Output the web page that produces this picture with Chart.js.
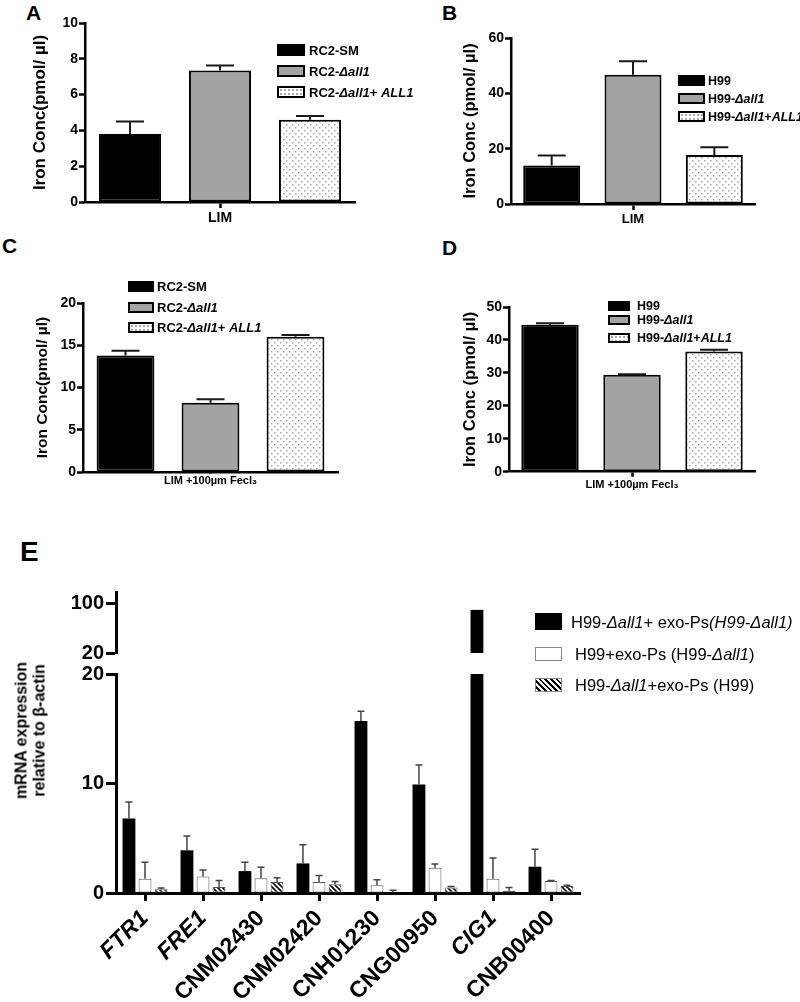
<html><head><meta charset="UTF-8">
<title>Iron concentration and mRNA expression</title>
<script src="https://cdn.jsdelivr.net/npm/chart.js"></script>
<style>
body {
  margin: 0;
  width: 800px;
  height: 1002px;
  position: relative;
  overflow: hidden;
  background: #fff;
  font-family: 'Liberation Sans', Arial, sans-serif;
  color: #000;
}
canvas { position: absolute; }
.panel-label { position: absolute; font-weight: bold; line-height: 1; }
.swatch { position: absolute; box-sizing: border-box; }
.leg-text { position: absolute; white-space: nowrap; line-height: 1; transform: translateY(-50%); }
#eTitle {
  position: absolute;
  width: 170px;
  left: -55px;
  top: 713px;
  text-align: center;
  font-weight: bold;
  font-size: 16px;
  line-height: 17.5px;
  transform: rotate(-90deg);
}
</style>
</head>
<body>
<div class="panel-label" style="left:26px;top:2px;font-size:21px">A</div>
<div class="panel-label" style="left:442px;top:2px;font-size:21px">B</div>
<div class="panel-label" style="left:2px;top:235px;font-size:21px">C</div>
<div class="panel-label" style="left:442px;top:237px;font-size:21px">D</div>
<div class="panel-label" style="left:20px;top:538px;font-size:28px">E</div>

<canvas id="cA"></canvas>
<canvas id="cB"></canvas>
<canvas id="cC"></canvas>
<canvas id="cD"></canvas>
<canvas id="cEtop"></canvas>
<canvas id="cE"></canvas>
<div id="eTitle">mRNA expression<br>relative to β-actin</div>

<script>
// ---- data ----
const limGroup = ['LIM'];
const feGroup = ['LIM +100µm Fecl₃'];
const rc2Series = ['RC2-SM', 'RC2-Δall1', 'RC2-Δall1+ ALL1'];
const h99Series = ['H99', 'H99-Δall1', 'H99-Δall1+ALL1'];

const valuesA = [3.8, 7.35, 4.6];
const errorsA = [0.7, 0.28, 0.2];
const valuesB = [13.9, 46.7, 17.75];
const errorsB = [3.6, 4.9, 2.75];
const valuesC = [13.8, 8.2, 16.0];
const errorsC = [0.55, 0.4, 0.2];
const valuesD = [44.6, 29.4, 36.5];
const errorsD = [0.5, 0.2, 0.5];

const genes = ['FTR1', 'FRE1', 'CNM02430', 'CNM02420', 'CNH01230', 'CNG00950', 'CIG1', 'CNB00400'];
const italicGenes = ['FTR1', 'FRE1', 'CIG1'];
const exoSeries = ['H99-Δall1+ exo-Ps(H99-Δall1)', 'H99+exo-Ps (H99-Δall1)', 'H99-Δall1+exo-Ps (H99)'];
const mutantExo = [6.8, 3.9, 2.0, 2.7, 15.7, 9.9, 89, 2.4];
const mutantExoErr = [1.5, 1.3, 0.8, 1.7, 0.9, 1.8, 0, 1.6];
const wtExo = [1.3, 1.5, 1.35, 1.0, 0.7, 2.3, 1.3, 1.1];
const wtExoErr = [1.5, 0.6, 1.0, 0.6, 0.5, 0.35, 1.9, 0.05];
const h99Exo = [0.35, 0.55, 1.0, 0.8, 0.05, 0.5, 0.2, 0.65];
const h99ExoErr = [0.1, 0.6, 0.4, 0.25, 0.2, 0.1, 0.3, 0.05];

const lowTicks = [0, 10, 20];
const highTicks = [20, 100];
const breakAt = 20;
const highMax = 117.6;

// ---- helpers ----
const FONT = "'Liberation Sans', Arial, sans-serif";
Chart.defaults.font.family = FONT;
Chart.defaults.color = '#000';

function dotPattern() {
  const c = document.createElement('canvas');
  c.width = 6; c.height = 6;
  const g = c.getContext('2d');
  g.fillStyle = '#fff'; g.fillRect(0, 0, 6, 6);
  g.fillStyle = '#a8a8a8';
  g.fillRect(1, 1, 1.5, 1.5);
  g.fillRect(4, 4, 1.5, 1.5);
  return g.createPattern(c, 'repeat');
}

function stripePattern() {
  const s = 5;
  const c = document.createElement('canvas');
  c.width = s; c.height = s;
  const g = c.getContext('2d');
  g.fillStyle = '#fff'; g.fillRect(0, 0, s, s);
  g.strokeStyle = '#000'; g.lineWidth = 1.6;
  g.beginPath();
  g.moveTo(-1, -1); g.lineTo(s + 1, s + 1);
  g.moveTo(-1, s - 1); g.lineTo(1, s + 1);
  g.moveTo(s - 1, -1); g.lineTo(s + 1, 1);
  g.stroke();
  return g.createPattern(c, 'repeat');
}

// one-sided (upper) error bars, like the original
const errorBars = {
  id: 'errorBars',
  afterDatasetsDraw(chart) {
    const {ctx, chartArea} = chart;
    const y = chart.scales.y;
    chart.data.datasets.forEach((ds, di) => {
      if (!ds.errors) return;
      const meta = chart.getDatasetMeta(di);
      ctx.save();
      ctx.beginPath();
      ctx.rect(chartArea.left, chartArea.top - 2, chartArea.width, chartArea.height + 2);
      ctx.clip();
      ctx.strokeStyle = ds.errColor;
      ctx.lineWidth = ds.errWidth;
      meta.data.forEach((bar, i) => {
        const v = ds.data[i], e = ds.errors[i];
        if (v == null || !e) return;
        const top = y.getPixelForValue(v + e);
        const half = ds.capWidth / 2;
        ctx.beginPath();
        ctx.moveTo(bar.x, bar.y);
        ctx.lineTo(bar.x, top);
        ctx.moveTo(bar.x - half, top);
        ctx.lineTo(bar.x + half, top);
        ctx.stroke();
      });
      ctx.restore();
    });
  }
};

function styled(s) {
  if (s.endsWith('Ps(H99-Δall1)')) return styled(s.slice(0, -11)) + '<i>(H99-Δall1)</i>';
  return s.replace(/Δall1|ALL1/g, '<i>$&</i>');
}

function legend(items, o) {
  items.forEach((name, i) => {
    const h = Array.isArray(o.h) ? o.h[i] : o.h;
    const sw = document.createElement('div');
    sw.className = 'swatch';
    sw.style.cssText += `left:${o.x}px;top:${o.ys[i] - h / 2}px;width:${o.w}px;height:${h}px;` + o.swatches[i];
    document.body.appendChild(sw);
    const t = document.createElement('div');
    t.className = 'leg-text';
    const tx = Array.isArray(o.tx) ? o.tx[i] : o.tx;
    t.style.cssText += `left:${tx}px;top:${o.ys[i]}px;font-size:${o.size}px;font-weight:${o.weight};`;
    t.innerHTML = styled(name);
    document.body.appendChild(t);
  });
}

function place(id, box) {
  const cv = document.getElementById(id);
  cv.width = box.w; cv.height = box.h;
  cv.style.left = box.left + 'px';
  cv.style.top = box.top + 'px';
  return cv;
}

const dots = dotPattern();
const stripes = stripePattern();
const ironFills = ['#000', '#a3a3a3', dots];

function ironPanel(id, box, o) {
  const cv = place(id, box);
  return new Chart(cv, {
    type: 'bar',
    data: {
      labels: o.group,
      datasets: o.series.map((name, i) => ({
        label: name,
        data: [o.values[i]],
        errors: [o.errors[i]],
        errColor: '#1a1a1a', errWidth: 2, capWidth: 28,
        backgroundColor: ironFills[i],
        borderColor: '#000',
        borderWidth: 2,
        borderSkipped: false,
        categoryPercentage: 1,
        barPercentage: o.barPct
      }))
    },
    options: {
      responsive: false,
      animation: false,
      events: [],
      layout: {padding: {top: o.padTop, right: 10, left: 0, bottom: 0}},
      plugins: {legend: {display: false}, tooltip: {enabled: false}},
      scales: {
        x: {
          grid: {drawOnChartArea: false, offset: false, tickLength: o.xTick, tickWidth: 2.5, tickColor: '#000'},
          border: {color: '#000', width: 2.5},
          ticks: {color: '#000', font: {weight: 'bold', size: o.xSize}, padding: 2},
          afterFit: s => { s.height = o.xh; }
        },
        y: {
          min: 0, max: o.max,
          ticks: {stepSize: o.step, color: '#000', font: {weight: 'bold', size: 14}, padding: 1},
          grid: {drawOnChartArea: false, tickLength: 6, tickWidth: 2.5, tickColor: '#000'},
          border: {color: '#000', width: 2.5},
          title: {display: true, text: o.yTitle, color: '#000',
                  font: {weight: 'bold', size: o.titleSize, lineHeight: 1.2},
                  padding: {top: o.titlePad, bottom: 0}},
          afterFit: s => { s.width = o.yw; }
        }
      }
    },
    plugins: [errorBars]
  });
}

ironPanel('cA', {left: 0, top: 0, w: 365, h: 235}, {
  group: limGroup, series: rc2Series, values: valuesA, errors: errorsA,
  max: 10, step: 2, padTop: 23, yw: 85, xh: 33, barPct: 0.69, xTick: 6, xSize: 14,
  yTitle: 'Iron Conc(pmol/ µl)', titleSize: 17, titlePad: 29.8
});
ironPanel('cB', {left: 400, top: 0, w: 365, h: 240}, {
  group: limGroup, series: h99Series, values: valuesB, errors: errorsB,
  max: 60, step: 20, padTop: 38, yw: 111, xh: 36, barPct: 0.70, xTick: 6, xSize: 13,
  yTitle: 'Iron Conc (pmol/ µl)', titleSize: 16.5, titlePad: 60.6
});
ironPanel('cC', {left: 0, top: 230, w: 348, h: 265}, {
  group: feGroup, series: rc2Series, values: valuesC, errors: errorsC,
  max: 20, step: 5, padTop: 73, yw: 83, xh: 23, barPct: 0.68, xTick: 0, xSize: 11,
  yTitle: 'Iron Conc(pmol/ µl)', titleSize: 15.5, titlePad: 33.2
});
ironPanel('cD', {left: 400, top: 230, w: 365, h: 265}, {
  group: feGroup, series: h99Series, values: valuesD, errors: errorsD,
  max: 50, step: 10, padTop: 77, yw: 109, xh: 23.3, barPct: 0.70, xTick: 5, xSize: 11,
  yTitle: 'Iron Conc (pmol/ µl)', titleSize: 16.5, titlePad: 60.6
});

const boxCss = ['background:#000;border:2px solid #000;',
                'background:#a3a3a3;border:2px solid #000;',
                'background:#fff radial-gradient(#a8a8a8 0.9px, transparent 1.2px) 0 0/4px 4px;border:2px solid #000;'];
legend(rc2Series, {x: 277, w: 28, h: 12, ys: [50, 71, 91.5], tx: 309, size: 13, weight: 'bold', swatches: boxCss});
legend(h99Series, {x: 678, w: 27, h: 11, ys: [80.5, 98.5, 116.5], tx: 708, size: 12.5, weight: 'bold', swatches: boxCss});
legend(rc2Series, {x: 128, w: 26, h: 11, ys: [286, 307, 327], tx: 157, size: 13, weight: 'bold', swatches: boxCss});
legend(h99Series, {x: 608, w: 22, h: 10, ys: [306, 319.5, 338], tx: 637, size: 12.5, weight: 'bold', swatches: boxCss});

// ---- panel E: broken y axis drawn as two charts sharing the x layout ----
const exoFills = ['#000', '#fff', stripes];
const exoBorders = [0, 1, 1];
const exoValues = [mutantExo, wtExo, h99Exo];
const exoErrors = [mutantExoErr, wtExoErr, h99ExoErr];
const allClip = {left: 0, top: 0, right: 0, bottom: 0};

function exoDatasets(part) {
  return exoSeries.map((name, i) => ({
    label: name,
    data: exoValues[i].map(v => part === 'high' ? (v > breakAt ? v : null) : v),
    errors: part === 'high' ? null : exoErrors[i],
    errColor: '#444', errWidth: 1.5, capWidth: 7,
    backgroundColor: exoFills[i],
    borderColor: '#555',
    borderWidth: exoBorders[i],
    borderSkipped: false,
    categoryPercentage: 0.83,
    barPercentage: 0.8,
    clip: allClip
  }));
}

const yTickFont = {weight: 'bold', size: 20};
const yGrid = {drawOnChartArea: false, tickLength: 10, tickWidth: 3, tickColor: '#000'};

new Chart(place('cEtop', {left: 0, top: 560, w: 590, h: 110}), {
  type: 'bar',
  data: {labels: genes, datasets: exoDatasets('high')},
  options: {
    responsive: false, animation: false, events: [],
    layout: {padding: {top: 32, right: 10, left: 0, bottom: 17}},
    plugins: {legend: {display: false}, tooltip: {enabled: false}},
    scales: {
      x: {display: false},
      y: {
        min: breakAt, max: highMax,
        afterBuildTicks: s => { s.ticks = highTicks.map(v => ({value: v})); },
        ticks: {color: '#000', font: yTickFont, padding: 2},
        grid: yGrid,
        border: {color: '#000', width: 3},
        afterFit: s => { s.width = 116; }
      }
    }
  }
});

new Chart(place('cE', {left: 0, top: 660, w: 590, h: 342}), {
  type: 'bar',
  data: {labels: genes, datasets: exoDatasets('low')},
  options: {
    responsive: false, animation: false, events: [],
    layout: {padding: {top: 13, right: 10, left: 0, bottom: 0}},
    plugins: {legend: {display: false}, tooltip: {enabled: false}},
    scales: {
      x: {
        grid: {drawOnChartArea: false, offset: false, tickLength: 8, tickWidth: 3, tickColor: '#000'},
        border: {color: '#000', width: 3},
        ticks: {
          color: '#000', autoSkip: false, minRotation: 45, maxRotation: 45, padding: 4,
          font: ctx => ({family: FONT, size: 23, weight: 'bold',
                         style: italicGenes.includes(genes[ctx.index]) ? 'italic' : 'normal'})
        },
        afterFit: s => { s.height = 109; }
      },
      y: {
        min: 0, max: breakAt,
        afterBuildTicks: s => { s.ticks = lowTicks.map(v => ({value: v})); },
        ticks: {color: '#000', font: yTickFont, padding: 2},
        grid: yGrid,
        border: {color: '#000', width: 3},
        afterFit: s => { s.width = 116; }
      }
    }
  },
  plugins: [errorBars]
});

legend(exoSeries, {
  x: 535, w: 27, h: [17, 14, 14], ys: [621.5, 654, 685], tx: [571, 575, 575],
  size: 16.5, weight: 'normal',
  swatches: ['background:#000;',
             'background:#fff;border:1.5px solid #888;',
             'background:repeating-linear-gradient(45deg,#fff 0 2px,#000 2px 4px);border:1.5px solid #888;']
});
</script>
</body></html>
